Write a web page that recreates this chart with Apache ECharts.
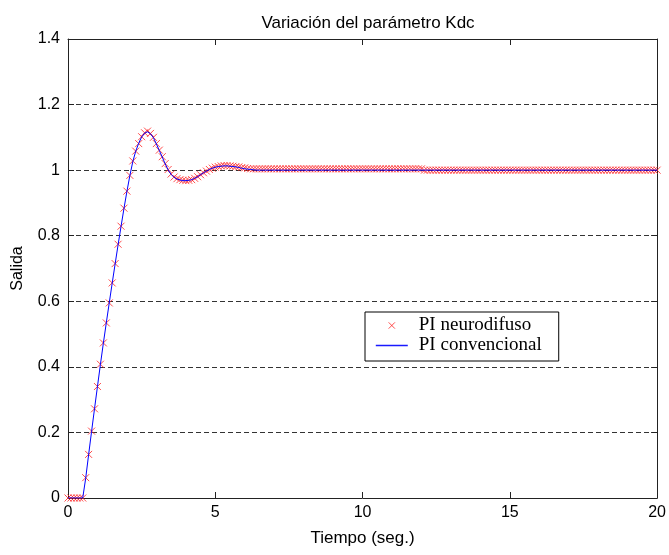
<!DOCTYPE html>
<html>
<head>
<meta charset="utf-8">
<script src="https://cdn.jsdelivr.net/npm/echarts@6/dist/echarts.min.js"></script>
<style>
html,body{margin:0;padding:0;background:#fff;}
#chart{width:669px;height:555px;}
</style>
</head>
<body>
<div id="chart"></div>
<script>
// Sampling step of both signals (seconds)
const sampleStep = 0.1;

// Series names
const seriesNames = ['PI neurodifuso', 'PI convencional'];

// Axis tick values
const xTicks = [0, 5, 10, 15, 20];
const yTicks = [0, 0.2, 0.4, 0.6, 0.8, 1, 1.2, 1.4];

// PI neurodifuso (markers), one value per 0.1 s from t = 0 to t = 20
const neuroValues = [
  0, 0, 0, 0, 0, 0,
  0.062, 0.133, 0.204, 0.272, 0.340, 0.408, 0.473, 0.534, 0.595, 0.656,
  0.715, 0.774, 0.829, 0.884, 0.936, 0.984, 1.028, 1.058, 1.081, 1.102,
  1.114, 1.119, 1.112, 1.100, 1.081, 1.061, 1.041, 1.020, 1.002, 0.988,
  0.979, 0.974, 0.971, 0.969, 0.968, 0.969, 0.971, 0.975, 0.980, 0.986,
  0.992, 0.997, 1.002, 1.006, 1.009, 1.011, 1.013, 1.014, 1.014, 1.013,
  1.012, 1.011, 1.010, 1.008, 1.007, 1.005,
  1.004, 1.004, 1.004, 1.004, 1.004, 1.004, 1.004, 1.004, 1.004, 1.004,
  1.004, 1.004, 1.004, 1.004, 1.004, 1.004, 1.004, 1.004, 1.004, 1.004,
  1.004, 1.004, 1.004, 1.004, 1.004, 1.004, 1.004, 1.004, 1.004, 1.004,
  1.004, 1.004, 1.004, 1.004, 1.004, 1.004, 1.004, 1.004, 1.004, 1.004,
  1.004, 1.004, 1.004, 1.004, 1.004, 1.004, 1.004, 1.004, 1.004, 1.004,
  1.004, 1.004, 1.004, 1.004, 1.004, 1.004, 1.004, 1.004, 1.004,
  1, 1, 1, 1, 1, 1, 1, 1, 1, 1,
  1, 1, 1, 1, 1, 1, 1, 1, 1, 1,
  1, 1, 1, 1, 1, 1, 1, 1, 1, 1,
  1, 1, 1, 1, 1, 1, 1, 1, 1, 1,
  1, 1, 1, 1, 1, 1, 1, 1, 1, 1,
  1, 1, 1, 1, 1, 1, 1, 1, 1, 1,
  1, 1, 1, 1, 1, 1, 1, 1, 1, 1,
  1, 1, 1, 1, 1, 1, 1, 1, 1, 1
];

// PI convencional (line), one value per 0.1 s from t = 0 to t = 20
const convValues = [
  0, 0, 0, 0, 0, 0,
  0.060, 0.132, 0.203, 0.272, 0.340, 0.407, 0.472, 0.534, 0.595, 0.655,
  0.714, 0.772, 0.828, 0.883, 0.935, 0.983, 1.026, 1.058, 1.082, 1.101,
  1.113, 1.117, 1.111, 1.099, 1.080, 1.060, 1.040, 1.019, 1.001, 0.987,
  0.978, 0.973, 0.970, 0.968, 0.968, 0.969, 0.971, 0.975, 0.980, 0.986,
  0.992, 0.997, 1.002, 1.006, 1.009, 1.011, 1.012, 1.013, 1.013, 1.012,
  1.011, 1.010, 1.008, 1.006, 1.004, 1.003,
  1.002, 1.001, 1.000, 1, 1, 1, 1, 1, 1, 1,
  1, 1, 1, 1, 1, 1, 1, 1, 1, 1,
  1, 1, 1, 1, 1, 1, 1, 1, 1, 1,
  1, 1, 1, 1, 1, 1, 1, 1, 1, 1,
  1, 1, 1, 1, 1, 1, 1, 1, 1, 1,
  1, 1, 1, 1, 1, 1, 1, 1, 1,
  1, 1, 1, 1, 1, 1, 1, 1, 1, 1,
  1, 1, 1, 1, 1, 1, 1, 1, 1, 1,
  1, 1, 1, 1, 1, 1, 1, 1, 1, 1,
  1, 1, 1, 1, 1, 1, 1, 1, 1, 1,
  1, 1, 1, 1, 1, 1, 1, 1, 1, 1,
  1, 1, 1, 1, 1, 1, 1, 1, 1, 1,
  1, 1, 1, 1, 1, 1, 1, 1, 1, 1,
  1, 1, 1, 1, 1, 1, 1, 1, 1, 1
];

const toPairs = vals => vals.map((v, i) => [+(i * sampleStep).toFixed(1), v]);

const chart = echarts.init(document.getElementById('chart'), null, {renderer: 'canvas'});
const sansFont = 'Liberation Sans, Arial, sans-serif';
const serifFont = 'Liberation Serif, Times New Roman, serif';
const frameColor = '#222';
const markerColor = '#ff2020';
const lineColor = '#0000ff';
const markerPath = 'path://M0,0L10,10M10,0L0,10';
const legendMarkerPath = 'path://M0,0M20,20M5.5,5.5L14.5,14.5M14.5,5.5L5.5,14.5';

const sideAxis = {
  axisLine: {show: true, onZero: false, lineStyle: {color: frameColor, width: 1}},
  axisTick: {show: true, inside: true, length: 6, lineStyle: {color: frameColor}},
  axisLabel: {show: false},
  splitLine: {show: false}
};

const option = {
  backgroundColor: '#fff',
  animation: false,
  title: {
    text: 'Variación del parámetro Kdc',
    left: 363, top: 10, textAlign: 'center',
    textStyle: {fontFamily: sansFont, fontSize: 17, fontWeight: 'normal', color: '#000'}
  },
  grid: {left: 68, right: 10, top: 39, bottom: 57, containLabel: false},
  legend: {
    orient: 'vertical',
    left: 365, top: 312,
    backgroundColor: '#fff',
    borderColor: '#000', borderWidth: 1,
    padding: [4, 17, 6, 10],
    itemGap: 1,
    itemWidth: 32, itemHeight: 14,
    textStyle: {fontFamily: serifFont, fontSize: 19, color: '#000', lineHeight: 19, padding: [0, 0, 0, 6]},
    data: [
      {name: seriesNames[0], icon: legendMarkerPath,
       itemStyle: {color: 'none', borderColor: markerColor, borderWidth: 1}},
      {name: seriesNames[1],
       itemStyle: {color: 'rgba(0,0,0,0)', borderColor: 'rgba(0,0,0,0)', borderWidth: 0, opacity: 0},
       lineStyle: {color: '#1a1aff', width: 1.6, opacity: 1}}
    ]
  },
  xAxis: [{
    type: 'value', min: xTicks[0], max: xTicks[xTicks.length - 1], interval: 5,
    name: 'Tiempo (seg.)', nameLocation: 'middle', nameGap: 32,
    nameTextStyle: {fontFamily: sansFont, fontSize: 17, color: '#000'},
    axisLine: {show: true, onZero: false, lineStyle: {color: frameColor, width: 1}},
    axisTick: {show: true, inside: true, length: 6, lineStyle: {color: frameColor}},
    axisLabel: {fontFamily: sansFont, fontSize: 16, color: '#000', margin: 7},
    splitLine: {show: false}
  }, Object.assign({
    type: 'value', position: 'top', min: xTicks[0], max: xTicks[xTicks.length - 1], interval: 5
  }, sideAxis)],
  yAxis: [{
    type: 'value', min: yTicks[0], max: yTicks[yTicks.length - 1], interval: 0.2,
    name: 'Salida', nameLocation: 'middle', nameGap: 42, nameRotate: 90,
    nameTextStyle: {fontFamily: sansFont, fontSize: 16, color: '#000'},
    axisLine: {show: true, onZero: false, lineStyle: {color: frameColor, width: 1}},
    axisTick: {show: true, inside: true, length: 6, lineStyle: {color: frameColor}},
    axisLabel: {fontFamily: sansFont, fontSize: 16, color: '#000', margin: 8},
    splitLine: {show: true, lineStyle: {color: '#333', width: 1, type: [5, 3]}}
  }, Object.assign({
    type: 'value', position: 'right', min: yTicks[0], max: yTicks[yTicks.length - 1], interval: 0.2
  }, sideAxis)],
  series: [{
    name: seriesNames[0],
    type: 'scatter',
    data: toPairs(neuroValues),
    symbol: markerPath,
    symbolSize: 7,
    itemStyle: {color: 'none', borderColor: markerColor, borderWidth: 1},
    z: 2
  }, {
    name: seriesNames[1],
    type: 'line',
    data: toPairs(convValues),
    symbol: 'none',
    lineStyle: {color: lineColor, width: 1},
    itemStyle: {color: lineColor},
    z: 3
  }]
};
chart.setOption(option);
</script>
</body>
</html>
